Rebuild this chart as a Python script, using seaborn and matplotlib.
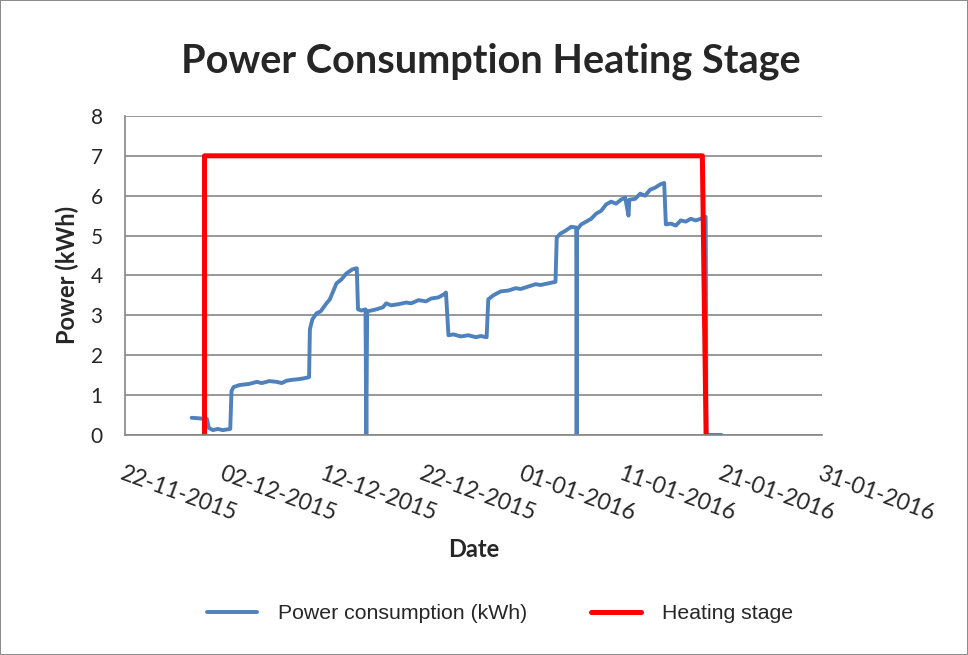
import pandas as pd
import matplotlib.pyplot as plt
import matplotlib.dates as mdates
import seaborn as sns

# power consumption readings
power_time = [
    '2015-11-28 17:00', '2015-11-29 06:00', '2015-11-29 18:00', '2015-11-30 06:00',
    '2015-11-30 10:00', '2015-11-30 20:00', '2015-12-01 08:00', '2015-12-01 20:00',
    '2015-12-02 14:00', '2015-12-02 17:00', '2015-12-02 22:00', '2015-12-03 12:00',
    '2015-12-04 12:00', '2015-12-05 06:00', '2015-12-05 18:00', '2015-12-06 12:00',
    '2015-12-07 06:00', '2015-12-07 18:00', '2015-12-08 06:00', '2015-12-08 18:00',
    '2015-12-09 12:00', '2015-12-10 00:00', '2015-12-10 12:00', '2015-12-10 14:00',
    '2015-12-10 20:00', '2015-12-11 06:00', '2015-12-11 16:00', '2015-12-12 06:00',
    '2015-12-12 14:00', '2015-12-13 06:00', '2015-12-13 18:00', '2015-12-14 06:00',
    '2015-12-14 20:00', '2015-12-15 07:00', '2015-12-15 10:00', '2015-12-15 18:00',
    '2015-12-16 04:00', '2015-12-16 06:00', '2015-12-16 08:00', '2015-12-16 18:00',
    '2015-12-17 06:00', '2015-12-17 22:00', '2015-12-18 06:00', '2015-12-18 18:00',
    '2015-12-19 12:00', '2015-12-20 06:00', '2015-12-20 18:00', '2015-12-21 12:00',
    '2015-12-22 06:00', '2015-12-22 18:00', '2015-12-23 12:00', '2015-12-24 00:00',
    '2015-12-24 06:00', '2015-12-24 12:00', '2015-12-25 00:00', '2015-12-25 18:00',
    '2015-12-26 12:00', '2015-12-27 06:00', '2015-12-27 18:00', '2015-12-28 08:00',
    '2015-12-28 12:00', '2015-12-29 00:00', '2015-12-29 18:00', '2015-12-30 12:00',
    '2015-12-31 06:00', '2015-12-31 18:00', '2016-01-01 12:00', '2016-01-02 06:00',
    '2016-01-02 18:00', '2016-01-03 12:00', '2016-01-04 06:00', '2016-01-04 09:00',
    '2016-01-04 18:00', '2016-01-05 06:00', '2016-01-05 20:00', '2016-01-06 08:00',
    '2016-01-06 09:00', '2016-01-06 10:00', '2016-01-06 20:00', '2016-01-07 08:00',
    '2016-01-07 20:00', '2016-01-08 08:00', '2016-01-08 20:00', '2016-01-09 08:00',
    '2016-01-09 20:00', '2016-01-10 08:00', '2016-01-10 20:00', '2016-01-11 06:00',
    '2016-01-11 14:00', '2016-01-11 16:00', '2016-01-12 06:00', '2016-01-12 18:00',
    '2016-01-13 06:00', '2016-01-13 18:00', '2016-01-14 06:00', '2016-01-14 18:00',
    '2016-01-15 04:00', '2016-01-15 08:00', '2016-01-15 20:00', '2016-01-16 08:00',
    '2016-01-16 20:00', '2016-01-17 08:00', '2016-01-17 20:00', '2016-01-18 08:00',
    '2016-01-18 20:00', '2016-01-19 08:00', '2016-01-19 10:00', '2016-01-20 22:00',
]
power_kwh = [
    0.43, 0.42, 0.41, 0.40,
    0.18, 0.12, 0.15, 0.12,
    0.15, 1.10, 1.20, 1.25,
    1.28, 1.33, 1.30, 1.35,
    1.33, 1.30, 1.36, 1.38,
    1.40, 1.42, 1.45, 2.65,
    2.90, 3.05, 3.10, 3.30,
    3.40, 3.80, 3.90, 4.05,
    4.15, 4.18, 3.15, 3.12,
    3.15, 0.00, 3.10, 3.12,
    3.15, 3.20, 3.30, 3.25,
    3.28, 3.32, 3.30, 3.38,
    3.35, 3.42, 3.45, 3.52,
    3.57, 2.50, 2.52, 2.47,
    2.50, 2.45, 2.48, 2.45,
    3.40, 3.50, 3.60, 3.62,
    3.68, 3.66, 3.72, 3.78,
    3.76, 3.80, 3.84, 4.95,
    5.05, 5.12, 5.22, 5.20,
    0.00, 5.15, 5.28, 5.35,
    5.42, 5.55, 5.62, 5.78,
    5.85, 5.80, 5.90, 5.95,
    5.50, 5.90, 5.92, 6.05,
    6.00, 6.15, 6.20, 6.28,
    6.32, 5.28, 5.30, 5.25,
    5.38, 5.35, 5.42, 5.38,
    5.42, 5.47, 0.00, 0.00,
]

# heating stage indicator
stage_time = ['2015-11-30 00:00', '2015-11-30 00:00', '2016-01-19 00:00', '2016-01-19 09:00']
stage_value = [0, 7, 7, 0]

tick_dates = ['2015-11-22', '2015-12-02', '2015-12-12', '2015-12-22',
              '2016-01-01', '2016-01-11', '2016-01-21', '2016-01-31']

power = pd.DataFrame({'date': pd.to_datetime(power_time), 'kwh': power_kwh})
stage = pd.DataFrame({'date': pd.to_datetime(stage_time), 'value': stage_value})

sns.set_style("white")
plt.rcParams['font.family'] = ['Lato', 'DejaVu Sans']

fig = plt.figure(figsize=(9.68, 6.55), dpi=100)
fig.patch.set_edgecolor('#8c8c8c')
fig.patch.set_linewidth(1.2)
ax = fig.add_axes([0.129, 0.336, 0.720, 0.487])

sns.lineplot(data=power, x='date', y='kwh', ax=ax, color='#4F81BD', linewidth=2.8,
             estimator=None, sort=False, label='Power consumption (kWh)')
sns.lineplot(data=stage, x='date', y='value', ax=ax, color='#FF0000', linewidth=3.6,
             estimator=None, sort=False, label='Heating stage')

ax.set_xlim(pd.Timestamp(tick_dates[0]), pd.Timestamp(tick_dates[-1]))
ax.set_ylim(0, 8)
ax.set_yticks(range(0, 9))
ax.set_xticks(pd.to_datetime(tick_dates))
ax.xaxis.set_major_formatter(mdates.DateFormatter('%d-%m-%Y'))

ax.grid(axis='y', color='#868686', linewidth=1.2)
ax.set_axisbelow(True)
for side in ['top', 'right']:
    ax.spines[side].set_visible(False)
for side in ['left', 'bottom']:
    ax.spines[side].set_color('#868686')
    ax.spines[side].set_linewidth(1.2)

ax.tick_params(axis='both', which='major', direction='out', length=6, width=1.2,
               color='#868686', labelsize=15)
ax.tick_params(axis='y', pad=10)
ax.tick_params(axis='x', pad=14, labelsize=16.5)
for lbl in ax.get_xticklabels():
    lbl.set_rotation(-20)
    lbl.set_rotation_mode('anchor')
    lbl.set_ha('left')
    lbl.set_va('top')

ax.set_xlabel('Date', fontsize=17, fontweight='bold', labelpad=10)
ax.set_ylabel('Power (kWh)', fontsize=17, fontweight='bold', labelpad=8)
fig.suptitle('Power Consumption Heating Stage', fontsize=28.5, fontweight='bold',
             x=0.507, y=0.935)

ax.legend(loc='upper center', bbox_to_anchor=(0.538, -0.47), ncol=2, frameon=False,
          prop={'family': 'Liberation Sans', 'size': 15.3}, handlelength=2.35,
          handletextpad=1.0, columnspacing=3.0)

fig.savefig('out.png', dpi=100)
